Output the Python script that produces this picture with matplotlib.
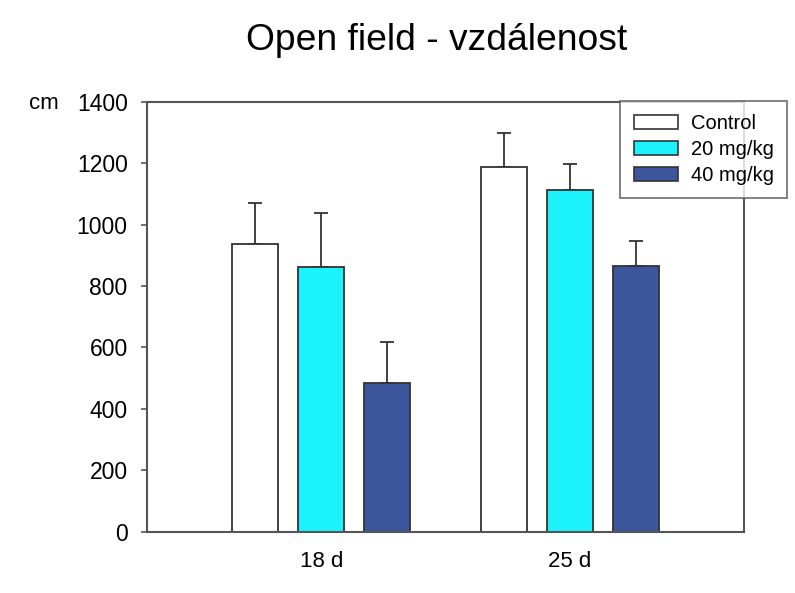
import numpy as np
import matplotlib.pyplot as plt
from matplotlib.patches import Patch

plt.rcParams['font.family'] = ['Liberation Sans', 'DejaVu Sans']

# data
days = ['18 d', '25 d']
groups = ['Control', '20 mg/kg', '40 mg/kg']
means = [[936, 1187],
         [861, 1114],
         [484, 865]]
errs = [[135, 111],
        [176, 85],
        [133, 82]]
colors = ['white', '#1CF2FC', '#3D559C']

fig = plt.figure(figsize=(7.95, 5.93), dpi=100)
ax = fig.add_axes([0.185, 0.1037, 0.751, 0.7243])

x = np.arange(len(days))
width = 0.185
offsets = [-0.265, 0.0, 0.265]
for i in range(len(groups)):
    ax.bar(x + offsets[i], means[i], width, color=colors[i],
           edgecolor='#333333', linewidth=1.3, zorder=2)
    ax.errorbar(x + offsets[i], means[i],
                yerr=[np.zeros(len(days)), errs[i]],
                fmt='none', ecolor='#333333', elinewidth=1.3,
                capsize=4.7, capthick=1.3, zorder=1)

ax.set_xlim(-0.7, 1.7)
ax.set_ylim(0, 1400)
ax.set_yticks(np.arange(0, 1401, 200))
ax.set_xticks(x)
ax.set_xticklabels(days)
ax.tick_params(axis='x', length=0, labelsize=16, pad=14)
ax.tick_params(axis='y', length=4, width=1.2, color='#555555',
               labelsize=16.5, pad=10)
for s in ax.spines.values():
    s.set_color('#555555')
    s.set_linewidth(1.5)

fig.text(437 / 795, 1 - 40 / 593, 'Open field - vzdálenost', fontsize=26.8,
         ha='center', va='center')
fig.text(44 / 795, 1 - 103 / 593, 'cm', fontsize=16, ha='center',
         va='center')

handles = [Patch(facecolor=colors[i], edgecolor='#333333', linewidth=1.2)
           for i in range(len(groups))]
leg = fig.legend(handles, groups, loc='upper right',
                 bbox_to_anchor=(787 / 795, 1 - 101 / 593),
                 fontsize=14.5, frameon=True, fancybox=False,
                 handlelength=2.2, handleheight=0.65, handletextpad=0.65,
                 labelspacing=0.35, borderpad=0.65, borderaxespad=0)
leg.get_frame().set_edgecolor('#555555')
leg.get_frame().set_linewidth(1.3)

plt.savefig('out.png', dpi=100)
plt.close(fig)
